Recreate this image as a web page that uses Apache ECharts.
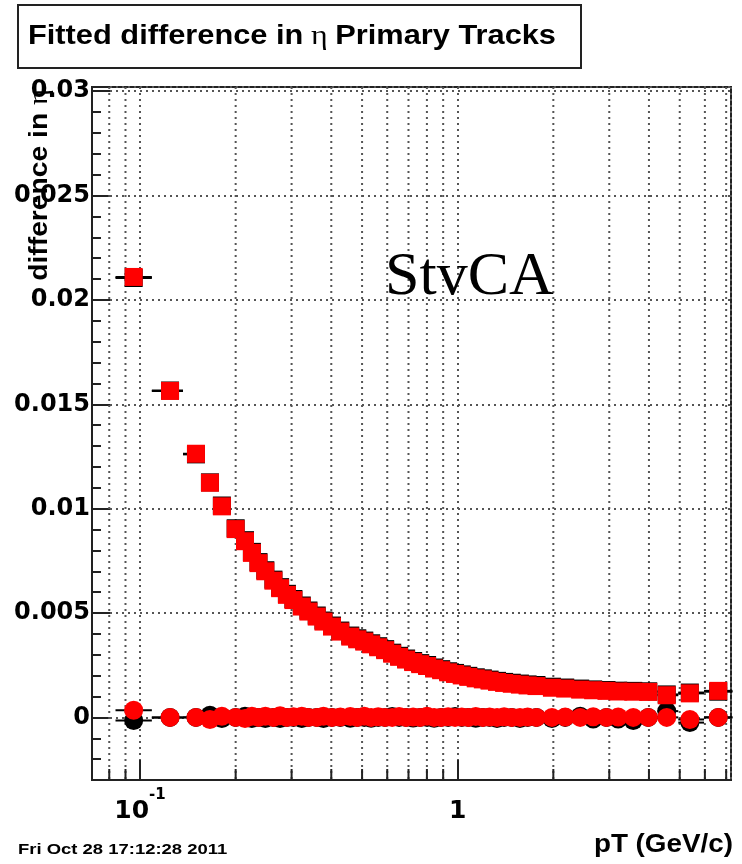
<!DOCTYPE html>
<html><head><meta charset="utf-8">
<script src="https://cdn.jsdelivr.net/npm/echarts@6/dist/echarts.min.js"></script>
<style>html,body{margin:0;padding:0;background:#fff}#c{width:742px;height:864px}</style>
</head><body><div id="c"></div>
<script>
// ---- data ----
const pT = [0.0955, 0.1243, 0.150, 0.166, 0.181, 0.200, 0.214, 0.225, 0.236, 0.248,
  0.263, 0.276, 0.290, 0.304, 0.323, 0.339, 0.360, 0.378, 0.402, 0.427,
  0.459, 0.483, 0.508, 0.534, 0.562, 0.591, 0.622, 0.654, 0.688, 0.724,
  0.762, 0.801, 0.843, 0.887, 0.933, 0.981, 1.03, 1.08, 1.14, 1.20,
  1.26, 1.33, 1.40, 1.48, 1.57, 1.66, 1.77, 1.98, 2.18, 2.43,
  2.67, 2.94, 3.20, 3.57, 3.98, 4.55, 5.38, 6.61];
// red squares
const widthRed = [0.0211, 0.01564, 0.01263, 0.01124, 0.01011, 0.00902, 0.00844, 0.00788, 0.00739, 0.00700,
  0.00655, 0.00619, 0.00587, 0.00562, 0.00531, 0.00507, 0.00483, 0.00459, 0.00435, 0.00411,
  0.00387, 0.00374, 0.00363, 0.00350, 0.00336, 0.00322, 0.00305, 0.00290, 0.00277, 0.00265,
  0.00255, 0.00246, 0.00234, 0.00226, 0.00216, 0.00208, 0.00201, 0.00194, 0.00187, 0.00182,
  0.00176, 0.00170, 0.00165, 0.00161, 0.00157, 0.00153, 0.00150, 0.00142, 0.00138, 0.00133,
  0.00130, 0.00127, 0.00124, 0.00123, 0.00122, 0.00106, 0.00115, 0.00127];
// red circles
const meanRed = [0.00034, 0.0, 0.0, -0.0001, 0.00005, 0.0, -0.00005, 0.00005, 0.0, 0.00005,
  0.0, 0.00008, 0.0, 0.00003, 0.00006, 0.0, 0.0, 0.00005, 0.0, 0.00002,
  0.00004, 0.0, 0.00006, 0.0, 0.00003, 0.0, 0.0, 0.00004, 0.0, 0.00002,
  0.0, 0.00005, 0.0, 0.0, 0.00003, 0.0, 0.00002, 0.0, 0.00004, 0.0,
  0.00002, 0.0, 0.00003, 0.0, 0.0, 0.00002, 0.0, 0.0, 0.00002, 0.0,
  0.00003, 0.0, 0.00002, 0.0, 0.0, 0.0, -0.0001, 0.0];
// black (underlying) squares
const widthBlack = [0.02105, 0.01566, 0.0126, 0.01126, 0.01015, 0.00906, 0.00849, 0.00793, 0.00744, 0.00705,
  0.0066, 0.00624, 0.00592, 0.00567, 0.00536, 0.00512, 0.00488, 0.00464, 0.0044, 0.00416,
  0.00392, 0.00379, 0.00368, 0.00355, 0.00341, 0.00327, 0.0031, 0.00295, 0.00282, 0.0027,
  0.0026, 0.00251, 0.00239, 0.00231, 0.00221, 0.00213, 0.00206, 0.00199, 0.00192, 0.00187,
  0.00181, 0.00175, 0.0017, 0.00166, 0.00162, 0.00158, 0.00155, 0.00147, 0.00143, 0.00138,
  0.00134, 0.00131, 0.00128, 0.00127, 0.00125, 0.0011, 0.00119, 0.00123];
// black (underlying) circles
const meanBlack = [-0.00015, 0.0, 0.0, 0.0001, -0.00005, 0.0, 0.00005, -0.00005, 0.0, -0.00005,
  0.0, -0.00005, 0.0, 0.0, -0.00005, 0.0, 0.0, -0.00005, 0.0, 0.0,
  -0.00004, 0.0, 0.0, -0.00004, 0.0, 0.0, 0.00004, 0.0, 0.0, -0.00003,
  0.0, 0.0, -0.00004, 0.0, 0.0, 0.00004, 0.0, 0.0, -0.00004, 0.0,
  0.0, -0.00005, 0.0, 0.0, -0.00005, 0.0, 0.0, -0.00005, 0.0, 0.00005,
  -0.00008, 0.0, -0.00008, -0.00015, 0.0, 0.0003, -0.00025, 0.0];
const xMinorTicks = [0.08, 0.09, 0.2, 0.3, 0.4, 0.5, 0.6, 0.7, 0.8, 0.9, 2, 3, 4, 5, 6, 7];
const xRange = [0.0706, 7.25];
const yRange = [-0.003, 0.0302];

const FONT = 'Liberation Sans, Arial, sans-serif';
const LABELFONT = 'DejaVu Sans, Liberation Sans, sans-serif';
const SERIF = 'Liberation Serif, Times New Roman, serif';

// bin edges (geometric midpoints between neighbouring bin centres)
function binEdges(xs) {
  return xs.map((x, i) => {
    const hi = i < xs.length - 1 ? Math.sqrt(x * xs[i + 1]) : x * x / Math.sqrt(xs[i - 1] * x);
    const lo = i > 0 ? Math.sqrt(xs[i - 1] * x) : x * x / Math.sqrt(x * xs[1]);
    return [lo, hi];
  });
}
const edges = binEdges(pT);
const errData = [];
[widthBlack, meanBlack, widthRed, meanRed].forEach(arr => {
  arr.forEach((v, i) => errData.push([edges[i][0], edges[i][1], v]));
});
const pts = arr => arr.map((v, i) => [pT[i], v]);

const dotted = { color: '#555', width: 2, type: [2, 4] };
const chart = echarts.init(document.getElementById('c'), null, { renderer: 'canvas' });
chart.setOption({
  animation: false,
  backgroundColor: '#fff',
  grid: { left: 92, right: 11, top: 87, bottom: 84, show: true, borderColor: '#222', borderWidth: 2 },
  xAxis: {
    type: 'log', logBase: 10, min: xRange[0], max: xRange[1],
    axisLine: { show: true, onZero: false, lineStyle: { color: '#222', width: 2 } },
    axisTick: { show: true, inside: true, length: 20, lineStyle: { color: '#222', width: 2 } },
    minorTick: { show: false },
    splitLine: { show: true, lineStyle: dotted },
    axisLabel: {
      showMinLabel: false, showMaxLabel: false, margin: 8, color: '#000',
      formatter: v => {
        const l = Math.log10(v);
        if (Math.abs(l + 1) < 1e-6) return '{b|10}{s|-1}';
        if (Math.abs(l) < 1e-6) return '{b|1}';
        return '';
      },
      rich: {
        b: { fontSize: 25, fontWeight: 'bold', fontFamily: LABELFONT, color: '#000', lineHeight: 36, verticalAlign: 'bottom' },
        s: { fontSize: 15, fontWeight: 'bold', fontFamily: LABELFONT, color: '#000', lineHeight: 16, verticalAlign: 'top' }
      }
    }
  },
  yAxis: {
    type: 'value', min: yRange[0], max: yRange[1], splitNumber: 7,
    axisLine: { show: true, onZero: false, lineStyle: { color: '#222', width: 2 } },
    axisTick: { show: true, inside: true, length: 18, lineStyle: { color: '#222', width: 2 } },
    minorTick: { show: true, splitNumber: 5, length: 9, lineStyle: { color: '#222', width: 2 } },
    splitLine: { show: true, lineStyle: dotted },
    axisLabel: { showMinLabel: false, showMaxLabel: false, margin: 2, fontSize: 24, fontWeight: 'bold', fontFamily: LABELFONT, color: '#000' }
  },
  graphic: [
    { type: 'rect', z: 10, shape: { x: 18, y: 5, width: 563, height: 63 }, style: { fill: '#fff', stroke: '#222', lineWidth: 2 } },
    { type: 'text', z: 11, x: 28, y: 37, scaleX: 1.14, style: {
        text: '{b|Fitted difference in}  {e|η}  {b|Primary Tracks}', verticalAlign: 'middle',
        rich: { b: { fontSize: 27, fontWeight: 'bold', fontFamily: FONT, fill: '#000' },
                e: { fontSize: 28, fontFamily: SERIF, fill: '#000' } } } },
    { type: 'text', z: 11, x: 40, y: 89, rotation: Math.PI / 2, scaleX: 1.13, style: {
        text: '{b|difference in }{e|η}', align: 'right', verticalAlign: 'middle',
        rich: { b: { fontSize: 25, fontWeight: 'bold', fontFamily: FONT, fill: '#000' },
                e: { fontSize: 27, fontFamily: SERIF, fill: '#000' } } } },
    { type: 'text', z: 11, x: 385, y: 278, style: { text: 'StvCA', font: '62px ' + SERIF, fill: '#000', verticalAlign: 'middle' } },
    { type: 'text', z: 11, x: 733, y: 845, scaleX: 1.07, style: { text: 'pT (GeV/c)', font: 'bold 26px ' + FONT, fill: '#000', align: 'right', verticalAlign: 'middle' } },
    { type: 'text', z: 11, x: 18, y: 850, scaleX: 1.23, style: { text: 'Fri Oct 28 17:12:28 2011', font: 'bold 15px ' + FONT, fill: '#000', verticalAlign: 'middle' } }
  ],
  series: [
    { type: 'custom', silent: true, z: 1, clip: false,
      data: xMinorTicks.map(v => [v, 0]), encode: { x: 0, y: 1 },
      renderItem: (params, api) => {
        const c = api.coord([api.value(0), 0]);
        const cs = params.coordSys;
        return { type: 'group', children: [
          { type: 'line', shape: { x1: c[0], y1: cs.y, x2: c[0], y2: cs.y + cs.height }, style: { stroke: '#555', lineWidth: 2, lineDash: [2, 4] } },
          { type: 'line', shape: { x1: c[0], y1: cs.y + cs.height, x2: c[0], y2: cs.y + cs.height - 11 }, style: { stroke: '#222', lineWidth: 2 } }
        ] };
      } },
    { type: 'custom', silent: true, z: 2,
      data: errData, encode: { x: [0, 1], y: 2 },
      renderItem: (params, api) => {
        const a = api.coord([api.value(0), api.value(2)]);
        const b = api.coord([api.value(1), api.value(2)]);
        return { type: 'line', shape: { x1: a[0], y1: a[1], x2: b[0], y2: b[1] }, style: { stroke: '#000', lineWidth: 2 } };
      } },
    { type: 'scatter', z: 3, silent: true, symbol: 'rect', symbolSize: 18, itemStyle: { color: '#000', opacity: 1 }, data: pts(widthBlack) },
    { type: 'scatter', z: 3, silent: true, symbol: 'circle', symbolSize: 19, itemStyle: { color: '#000', opacity: 1 }, data: pts(meanBlack) },
    { type: 'scatter', z: 4, silent: true, symbol: 'rect', symbolSize: 18, itemStyle: { color: '#ff0000', opacity: 1 }, data: pts(widthRed) },
    { type: 'scatter', z: 4, silent: true, symbol: 'circle', symbolSize: 19, itemStyle: { color: '#ff0000', opacity: 1 }, data: pts(meanRed) }
  ]
});
</script>
</body></html>
